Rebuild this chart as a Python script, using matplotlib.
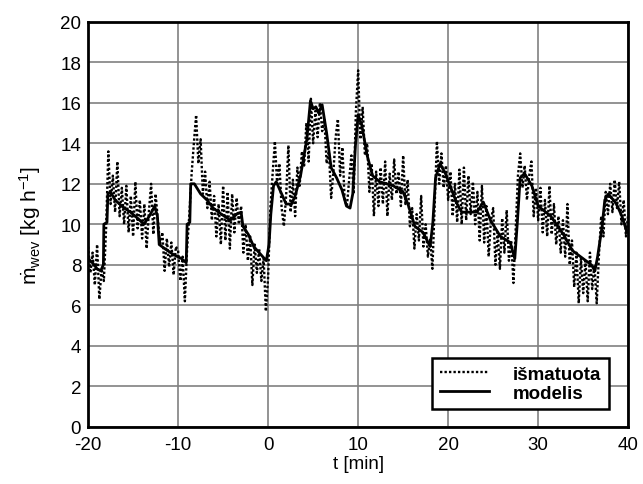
import matplotlib.pyplot as plt
import numpy as np

plt.rcParams['font.family'] = ['Liberation Sans', 'DejaVu Sans']
plt.rcParams['mathtext.fontset'] = 'custom'
plt.rcParams['mathtext.rm'] = 'Liberation Sans'
plt.rcParams['mathtext.it'] = 'Liberation Sans'
plt.rcParams['mathtext.bf'] = 'Liberation Sans:bold'
plt.rcParams['axes.unicode_minus'] = False

# measured evaporation rate, sampled every 0.25 min from -20 to 40 min
t_meas = np.arange(-20, 40.01, 0.25)
m_meas = [
    # -20 .. -15.25
    8.9, 7.6, 8.6, 7.0, 9.0, 6.3, 7.8, 7.2, 9.8, 13.6,
    11.0, 12.4, 10.6, 13.1, 10.4, 11.8, 10.0, 11.9, 9.6, 11.4,
    # -15 .. -10.25
    9.4, 12.1, 9.8, 11.2, 9.3, 11.0, 8.8, 10.6, 12.0, 9.5,
    11.5, 10.2, 9.0, 9.6, 7.7, 9.3, 7.9, 9.1, 7.5, 8.9,
    # -10 .. -5.25
    8.7, 7.2, 8.4, 6.2, 8.8, 10.5, 12.5, 14.0, 15.4, 13.0,
    14.2, 11.5, 12.6, 10.8, 12.1, 10.2, 11.4, 9.4, 11.0, 9.0,
    # -5 .. -0.25
    11.9, 9.2, 11.6, 8.8, 11.5, 9.6, 11.3, 10.0, 10.9, 8.6,
    10.0, 8.2, 9.4, 7.0, 9.0, 7.6, 8.8, 7.2, 8.3, 5.7,
    # 0 .. 4.75
    7.4, 10.8, 12.5, 14.1, 12.0, 13.0, 10.8, 9.9, 11.4, 13.9,
    10.6, 12.2, 10.4, 12.8, 11.9, 13.6, 12.9, 15.0, 13.1, 16.2,
    # 5 .. 9.75
    14.0, 15.6, 14.3, 16.0, 14.6, 15.2, 13.0, 13.6, 11.3, 12.6,
    14.3, 15.2, 12.4, 13.8, 11.2, 10.9, 12.2, 13.4, 11.5, 15.6,
    # 10 .. 14.75
    17.6, 14.2, 15.8, 13.4, 14.0, 11.6, 13.0, 10.4, 12.6, 10.9,
    12.8, 11.0, 13.1, 10.4, 12.5, 11.2, 13.2, 11.5, 12.6, 10.9,
    # 15 .. 19.75
    13.4, 11.0, 12.2, 9.9, 10.8, 8.8, 10.5, 9.2, 11.4, 8.9,
    10.0, 8.4, 9.3, 7.8, 11.0, 14.1, 12.0, 13.5, 11.8, 12.9,
    # 20 .. 24.75
    11.2, 12.6, 10.4, 12.0, 10.1, 12.7, 10.0, 12.8, 10.2, 12.4,
    10.5, 12.1, 10.0, 11.6, 9.2, 11.9, 9.1, 10.9, 8.4, 10.2,
    # 25 .. 29.75
    10.8, 8.0, 9.6, 7.8, 10.3, 8.6, 10.7, 8.2, 9.2, 7.1,
    9.8, 12.4, 13.5, 11.8, 12.9, 11.2, 12.4, 13.1, 10.4, 11.8,
    # 30 .. 34.75
    10.2, 11.8, 9.6, 11.2, 9.4, 11.9, 9.5, 11.0, 9.0, 10.4,
    8.6, 10.2, 8.4, 11.0, 8.0, 9.2, 6.9, 8.6, 6.1, 8.3,
    # 35 .. 40
    6.6, 8.2, 6.2, 8.6, 6.8, 8.0, 6.1, 8.5, 10.4, 9.4,
    11.6, 10.5, 12.0, 10.6, 12.2, 10.8, 12.1, 10.0, 11.2, 9.4,
    10.5,
]

# model output, breakpoints (min, kg/h)
t_model = [-20, -19.5, -19, -18.6, -18.3, -18.25, -17.9, -17.8, -17.5, -17,
           -16.5, -16, -15.3, -14.5, -13.8, -13.2, -12.6, -12.3, -12.1, -11.5,
           -10.5, -9.6, -9.1, -9.0, -8.7, -8.6, -8.2, -7.5, -6.8, -6.1,
           -5.2, -4.2, -3.5, -3.0, -2.8, -2.2, -1.6, -0.8, -0.2, 0.1,
           0.3, 0.6, 0.9, 1.4, 2.0, 2.6, 3.0, 3.6, 4.3, 4.7,
           5.0, 5.3, 5.6, 6.0, 6.5, 7.0, 7.6, 8.2, 8.7, 9.1,
           9.4, 9.7, 10.0, 10.4, 11.0, 11.6, 12.4, 13.9, 15.0, 15.6,
           16.3, 17.2, 18.0, 18.3, 18.6, 19.1, 19.7, 20.3, 21.0, 21.5,
           23.2, 23.9, 24.7, 25.8, 26.9, 27.4, 27.7, 28.0, 28.5, 29.3,
           30.0, 31.4, 32.8, 33.8, 34.7, 35.9, 36.3, 36.6, 37.1, 37.4,
           37.8, 38.7, 39.3, 39.8, 40]
m_model = [8.3, 8.1, 7.8, 7.7, 8.0, 10.0, 10.1, 11.5, 11.6, 11.2,
           11.0, 10.8, 10.6, 10.3, 10.0, 10.4, 10.9, 10.4, 9.0, 8.8,
           8.5, 8.3, 8.1, 10.0, 10.1, 12.0, 12.0, 11.5, 11.2, 10.8,
           10.5, 10.2, 10.5, 10.6, 9.9, 9.5, 8.9, 8.5, 8.2, 9.0,
           10.5, 11.9, 12.1, 11.6, 11.0, 11.0, 11.4, 12.4, 14.2, 16.1,
           15.7, 15.8, 15.5, 15.9, 14.5, 12.8, 12.3, 11.7, 10.9, 10.8,
           11.5, 13.9, 15.4, 14.9, 13.4, 12.4, 12.1, 11.9, 11.6, 10.9,
           9.9, 9.6, 8.9, 10.1, 12.3, 13.0, 12.5, 11.8, 11.0, 10.6,
           10.6, 11.1, 10.2, 9.4, 9.1, 8.3, 10.2, 12.3, 12.5, 11.9,
           10.9, 10.4, 9.5, 8.7, 8.4, 8.0, 7.7, 8.4, 9.9, 11.2,
           11.5, 11.0, 10.4, 9.7, 9.6]

fig, ax = plt.subplots(figsize=(6.43, 4.85), dpi=100)
fig.subplots_adjust(left=0.137, right=0.977, bottom=0.118, top=0.953)

ax.plot(t_meas, m_meas, color='black', linestyle=(0, (1, 0.9)), linewidth=1.7,
        label='išmatuota')
ax.plot(t_model, m_model, color='black', linestyle='-', linewidth=2.0,
        label='modelis')

ax.set_xlim(-20, 40)
ax.set_ylim(0, 20)
ax.set_xticks(np.arange(-20, 41, 10))
ax.set_yticks(np.arange(0, 21, 2))
ax.grid(True, color='#808080', linewidth=1.2)
ax.set_axisbelow(True)
ax.tick_params(length=0, labelsize=13.5)
ax.tick_params(axis='x', pad=7)
ax.tick_params(axis='y', pad=5)
for s in ax.spines.values():
    s.set_linewidth(2)

ax.set_xlabel('t [min]', fontsize=13.5, labelpad=1)
ax.set_ylabel(r'$\dot{\mathrm{m}}_{\mathrm{wev}}$ [kg h$^{\mathrm{-1}}$]', fontsize=15,
              labelpad=12)

leg = ax.legend(loc='lower right', fancybox=False, framealpha=1, edgecolor='black',
                prop={'weight': 'bold', 'size': 13.5}, handlelength=2.6,
                handletextpad=1.3, borderpad=0.4, labelspacing=0.1,
                borderaxespad=0.6, bbox_to_anchor=(0.985, 0.015))
leg.get_frame().set_linewidth(1.8)

plt.savefig('out.png')
